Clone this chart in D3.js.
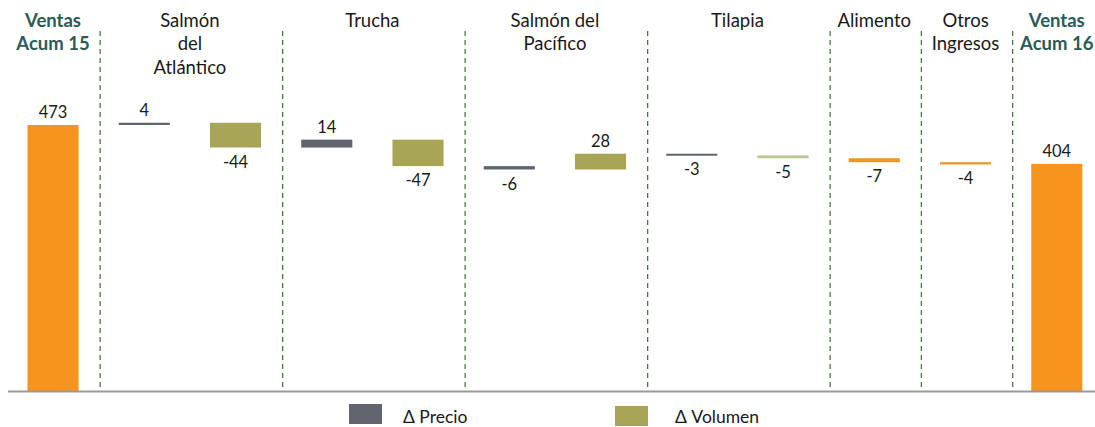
<!DOCTYPE html>
<html>
  <head>
    <meta charset="utf-8">
    <title>Ventas Acum 15 vs Acum 16</title>
    <script src="https://d3js.org/d3.v7.min.js"></script>
    <style>
      body {
        margin: 0;
        background: #fff;
        overflow: hidden;
      }
      svg text {
        font-family: Lato, "Noto Sans", sans-serif;
        fill: #1a1a1a;
      }
    </style>
  </head>
  <body>
    <script>
      // waterfall steps (left to right)
      var steps = ["Ventas Acum 15", "SA Precio", "SA Volumen", "Trucha Precio", "Trucha Volumen",
                   "SP Precio", "SP Volumen", "Tilapia Precio", "Tilapia Volumen",
                   "Alimento", "Otros Ingresos", "Ventas Acum 16"];
      var values = [473, 4, -44, 14, -47, -6, 28, -3, -5, -7, -4, 404];
      var kinds = ["total", "precio", "volumen", "precio", "volumen", "precio", "volumen",
                   "precio", "volumen2", "otro", "otro", "total"];
      var stepGroup = [0, 1, 1, 2, 2, 3, 3, 4, 4, 5, 6, 7];

      // header labels, one per group (lines split by "|")
      var groups = ["Ventas|Acum 15", "Salmón|del|Atlántico", "Trucha", "Salmón del|Pacífico",
                    "Tilapia", "Alimento", "Otros|Ingresos", "Ventas|Acum 16"];
      var boldGroups = [0, 7];

      var legendLabels = ["Δ Precio", "Δ Volumen"];

      var colors = {
        total: "#f7941d",
        precio: "#5f646e",
        volumen: "#a8a656",
        volumen2: "#b5c98f",
        otro: "#f7941d"
      };

      var width = 1095, height = 427, baseY = 391.5;

      var svg = d3.select("body").append("svg")
                  .attr("width", width)
                  .attr("height", height);

      var x = d3.scaleBand()
                .domain(d3.range(steps.length))
                .range([7.4, 1102.4])
                .paddingInner(0.44)
                .paddingOuter(0.22);

      var y = d3.scaleLinear()
                .domain([0, 473])
                .range([baseY, 125]);

      // running totals for the floating bars
      var bars = [], run = 0;
      values.forEach(function(v, i) {
        var start, end;
        if (kinds[i] == "total") {
          start = 0; end = v; run = v;
        } else {
          start = run; end = run + v; run = end;
        }
        bars.push({ i: i, v: v, lo: Math.min(start, end), hi: Math.max(start, end), kind: kinds[i] });
      });

      // dashed separators between groups
      var seps = [];
      for (var i = 1; i < steps.length; i++) {
        if (stepGroup[i] != stepGroup[i - 1]) {
          seps.push((x(i - 1) + x(i) + x.bandwidth()) / 2 + 1.5);
        }
      }
      svg.selectAll("line.sep")
        .data(seps)
        .enter()
        .append("line")
        .attr("class", "sep")
        .attr("x1", function(d) { return d; })
        .attr("x2", function(d) { return d; })
        .attr("y1", 31)
        .attr("y2", baseY)
        .attr("stroke", "#4a7548")
        .attr("stroke-width", 1.3)
        .attr("stroke-dasharray", "5,4");

      // bars
      svg.selectAll("rect.bar")
        .data(bars)
        .enter()
        .append("rect")
        .attr("class", "bar")
        .attr("x", function(d) { return x(d.i); })
        .attr("width", x.bandwidth())
        .attr("y", function(d) { return y(d.hi); })
        .attr("height", function(d) { return Math.max(2, y(d.lo) - y(d.hi)); })
        .attr("fill", function(d) { return colors[d.kind]; });

      // value labels
      svg.selectAll("text.val")
        .data(bars)
        .enter()
        .append("text")
        .attr("class", "val")
        .attr("x", function(d) { return x(d.i) + x.bandwidth() / 2; })
        .attr("y", function(d) {
          return d.v >= 0 ? y(d.hi) - 7 : y(d.lo) + 20;
        })
        .attr("text-anchor", "middle")
        .style("font-size", "16.5px")
        .text(function(d) { return d.v; });

      // baseline
      svg.append("line")
        .attr("x1", 8)
        .attr("x2", width)
        .attr("y1", baseY)
        .attr("y2", baseY)
        .attr("stroke", "#9a9a9a")
        .attr("stroke-width", 2);

      // group headers
      var headerX = groups.map(function(g, gi) {
        var idx = d3.range(steps.length).filter(function(i) { return stepGroup[i] == gi; });
        return d3.mean(idx, function(i) { return x(i) + x.bandwidth() / 2; });
      });

      var heads = svg.selectAll("text.head")
        .data(groups)
        .enter()
        .append("text")
        .attr("class", "head")
        .attr("text-anchor", "middle")
        .style("font-size", "18.5px")
        .style("font-weight", function(d, gi) { return boldGroups.indexOf(gi) >= 0 ? "bold" : "normal"; })
        .style("fill", function(d, gi) { return boldGroups.indexOf(gi) >= 0 ? "#2a5b57" : "#1a1a1a"; });

      heads.each(function(d, gi) {
        var t = d3.select(this);
        d.split("|").forEach(function(line, li) {
          t.append("tspan")
            .attr("x", headerX[gi])
            .attr("y", 26.5 + li * 23.5)
            .style("fill", "inherit")
            .text(line);
        });
      });

      // legend
      var legX = [349, 615], legY = [404, 406], textX = [403, 675];
      var leg = svg.selectAll("g.leg")
        .data(legendLabels)
        .enter()
        .append("g")
        .attr("class", "leg");
      leg.append("rect")
        .attr("x", function(d, i) { return legX[i]; })
        .attr("y", function(d, i) { return legY[i]; })
        .attr("width", 33)
        .attr("height", 20)
        .attr("fill", function(d, i) { return i == 0 ? colors.precio : colors.volumen; });
      leg.append("text")
        .attr("x", function(d, i) { return textX[i]; })
        .attr("y", 423)
        .style("font-size", "17.5px")
        .text(function(d) { return d; });
    </script>
  </body>
</html>
